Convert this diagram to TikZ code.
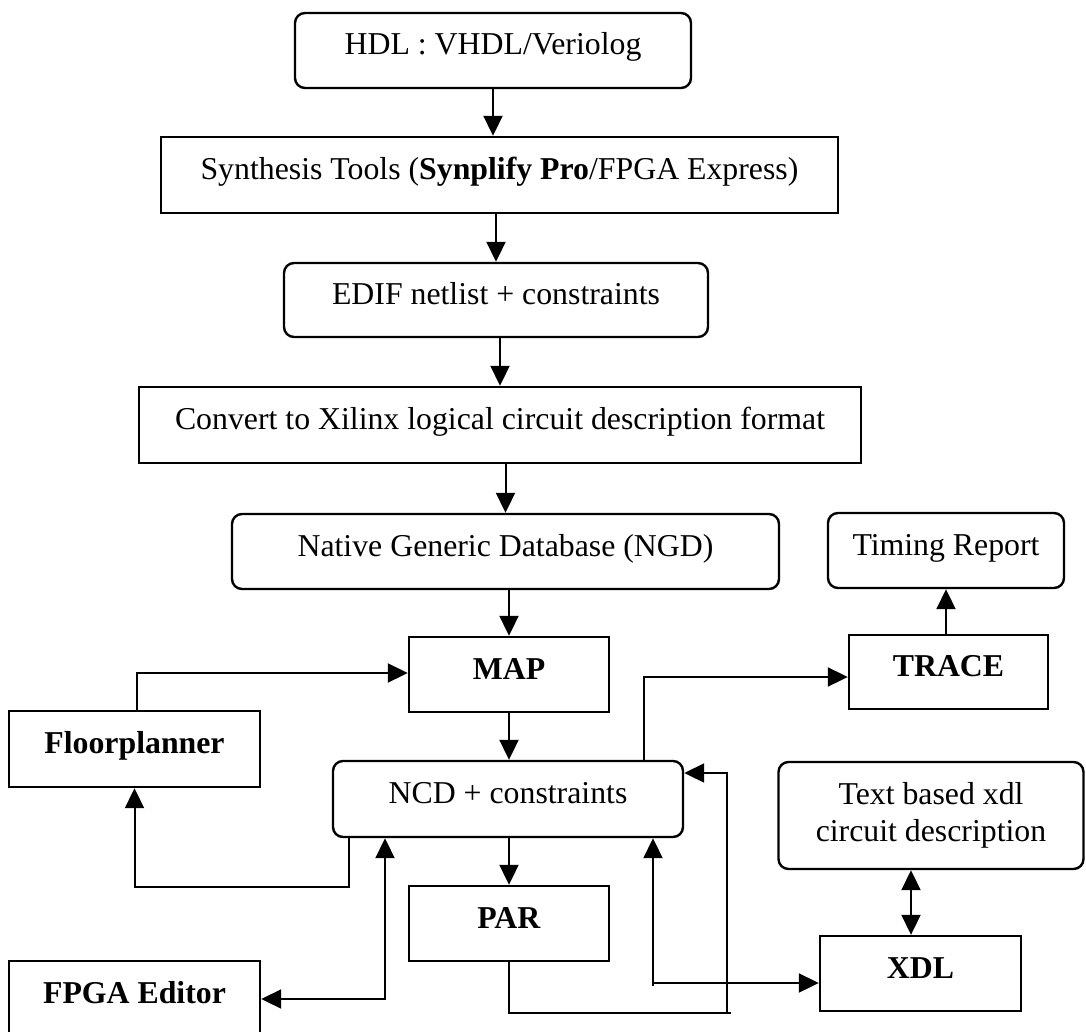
\documentclass[tikz,border=0pt]{standalone}
\usepackage{fontspec}
\setmainfont{Liberation Serif}
\usetikzlibrary{arrows.meta,calc}
\begin{document}
\begin{tikzpicture}[x=1pt,y=-1pt,
  font=\fontsize{31.8}{37}\selectfont,
  boxbase/.style={draw, line width=2.4pt, inner sep=0pt},
  rbox/.style={boxbase, rounded corners=10pt},
  sbox/.style={boxbase},
  one/.style={text height=19pt, text depth=10pt},
  arr/.style={line width=2pt, -{Triangle[length=20pt,width=19pt]}},
  dbl/.style={line width=2pt, {Triangle[length=20pt,width=19pt]}-{Triangle[length=20pt,width=19pt]}},
  ln/.style={line width=2pt}]
\useasboundingbox (0,0) rectangle (1086,1032);
\fill[white] (0,0) rectangle (1086,1032);
\clip (0,0) rectangle (1086,1032);

% nodes
\node[rbox,one,minimum width=396pt,minimum height=75pt] (hdl) at (493,50.5) {HDL : VHDL/Veriolog};
\node[sbox,one,minimum width=677pt,minimum height=76pt] (synth) at (499.5,175) {Synthesis Tools (\textbf{Synplify Pro}/FPGA Express)};
\node[rbox,one,minimum width=424pt,minimum height=74pt] (edif) at (496,300) {EDIF netlist + constraints};
\node[sbox,one,minimum width=722pt,minimum height=76pt] (convert) at (500,425) {Convert to Xilinx logical circuit description format};
\node[rbox,one,minimum width=547pt,minimum height=75pt] (ngd) at (505.5,551.5) {Native Generic Database (NGD)};
\node[rbox,one,minimum width=236pt,minimum height=75pt] (timing) at (946,550.5) {Timing Report};
\node[sbox,one,minimum width=200pt,minimum height=75pt] (map) at (509,674.5) {\textbf{MAP}};
\node[sbox,one,minimum width=199pt,minimum height=74pt] (trace) at (948.5,672) {\textbf{TRACE}};
\node[sbox,one,minimum width=251pt,minimum height=76pt] (floor) at (134.5,749) {\textbf{Floorplanner}};
\node[rbox,one,minimum width=350pt,minimum height=76pt] (ncd) at (508,799) {NCD + constraints};
\node[rbox,align=center,minimum width=305pt,minimum height=107pt] (txt) at (931,815.5) {Text based xdl\\circuit description};
\node[sbox,one,minimum width=200pt,minimum height=75pt] (par) at (509,923.5) {\textbf{PAR}};
\node[sbox,one,minimum width=201pt,minimum height=75pt] (xdl) at (920.5,973.5) {\textbf{XDL}};
\node[sbox,one,minimum width=251pt,minimum height=75pt] (fpga) at (134.5,998.5) {\textbf{FPGA Editor}};

% bend points
\coordinate (b1) at (349,887);
\coordinate (b2) at (385,999);
\coordinate (b3) at (644,677);
\coordinate (b4) at (727,1013);
\coordinate (b5) at (727,773);
\coordinate (b6) at (653,983);
\coordinate (b7) at (911,900);
\coordinate (b8) at (137,673);

% main column
\draw[arr] (hdl.south) -- (hdl.south |- synth.north);
\draw[arr] (edif.north |- synth.south) -- (edif.north);
\draw[arr] (convert.north |- edif.south) -- (convert.north);
\draw[arr] (ngd.north |- convert.south) -- (ngd.north);
\draw[arr] (map.north |- ngd.south) -- (map.north);
\draw[arr] (map.south) -- (map.south |- ncd.north);
\draw[arr] (ncd.south -| par.north) -- (par.north);

% floorplanner
\draw[arr] (floor.north -| b8) -- (b8) -- (b8 -| map.west);
\draw[arr] (ncd.south -| b1) -- (b1) -| (floor.south);

% fpga editor
\draw[dbl] (ncd.south -| b2) -- (b2) -- (b2 -| fpga.east);

% trace
\draw[arr] (ncd.north -| b3) -- (b3) -- (b3 -| trace.west);
\draw[arr] (trace.north -| timing.south) -- (timing.south);

% par loop
\draw[arr] (par.south) |- (b4) -- (b5) -- (b5 -| ncd.east);
\draw[ln] (b4) -- ++(4,0);

% xdl
\draw[dbl] (ncd.south -| b6) -- (b6) -- (b6 -| xdl.west);
\draw[ln] (b6) -- ++(0,3);
\draw[dbl] (txt.south -| b7) -- (xdl.north -| b7);
\end{tikzpicture}
\end{document}
